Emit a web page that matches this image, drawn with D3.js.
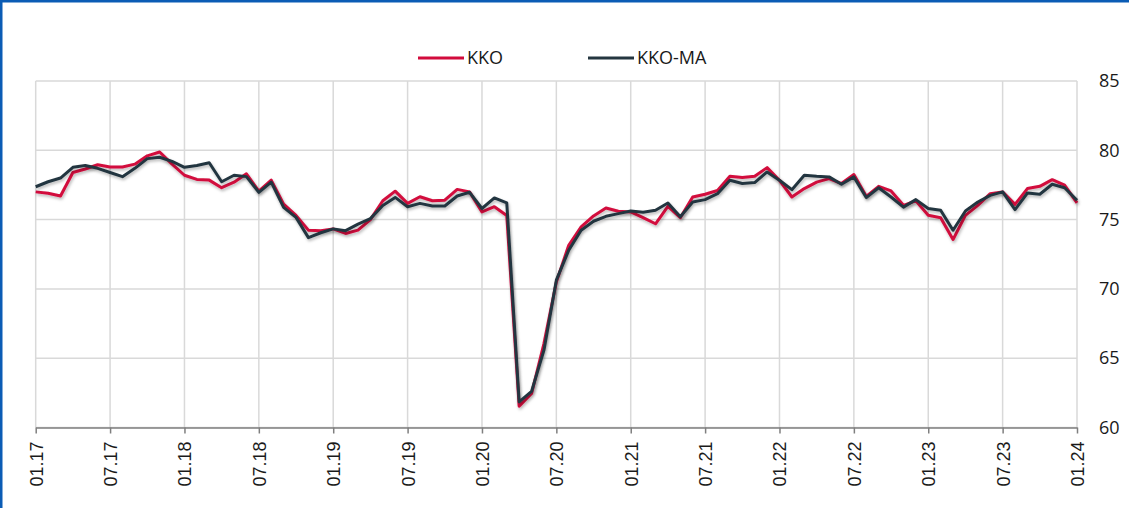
<!DOCTYPE html>
<html>
<head>
<meta charset="utf-8">
<script src="https://cdn.jsdelivr.net/npm/d3@7"></script>
<style>
  html, body { margin: 0; padding: 0; background: #fff; }
  svg { display: block; }
</style>
</head>
<body>
<svg id="chart" width="1129" height="508"></svg>
<script>
// Monthly data, 01.2017 .. 01.2024 (85 months)
const seriesNames = ["KKO", "KKO-MA"];
const kko = [
  77.0, 76.9, 76.7, 78.4, 78.65, 78.96, 78.8, 78.8, 79.0, 79.6, 79.88, 79.0,
  78.2, 77.9, 77.85, 77.3, 77.7, 78.3, 77.05, 77.85, 76.12, 75.3, 74.24, 74.2,
  74.33, 74.0, 74.24, 75.0, 76.36, 77.05, 76.17, 76.65, 76.36, 76.4, 77.18, 77.0,
  75.56, 75.93, 75.3, 61.54, 62.45, 66.06, 70.5, 73.15, 74.47, 75.26, 75.84, 75.6,
  75.55, 75.14, 74.7, 75.96, 75.14, 76.63, 76.83, 77.1, 78.13, 78.03, 78.13, 78.75,
  77.84, 76.63, 77.24, 77.7, 77.96, 77.6, 78.25, 76.68, 77.4, 77.07, 76.03, 76.35,
  75.31, 75.14, 73.56, 75.31, 76.03, 76.87, 77.0, 76.1, 77.24, 77.4, 77.88, 77.48,
  76.2
];
const kkoMA = [
  77.37, 77.73, 78.0, 78.77, 78.9, 78.7, 78.4, 78.1, 78.7, 79.4, 79.5, 79.2,
  78.77, 78.9, 79.1, 77.73, 78.2, 78.1, 76.97, 77.7, 75.88, 75.16, 73.7, 74.05,
  74.33, 74.2, 74.67, 75.07, 76.02, 76.6, 75.93, 76.17, 75.98, 75.98, 76.7, 76.97,
  75.8, 76.56, 76.2, 61.85, 62.6, 65.58, 70.63, 72.8, 74.23, 74.88, 75.24, 75.43,
  75.62, 75.53, 75.67, 76.2, 75.2, 76.27, 76.44, 76.87, 77.84, 77.6, 77.67, 78.44,
  77.84, 77.16, 78.2, 78.13, 78.08, 77.55, 78.08, 76.59, 77.3, 76.63, 75.9, 76.44,
  75.8, 75.67, 74.23, 75.62, 76.27, 76.75, 77.0, 75.72, 76.92, 76.83, 77.55, 77.3,
  76.4
];
const tickLabels = ["01.17","07.17","01.18","07.18","01.19","07.19","01.20","07.20",
  "01.21","07.21","01.22","07.22","01.23","07.23","01.24"];
const yTicks = [60, 65, 70, 75, 80, 85];

const colors = ["#d20b3c", "#243640"];

(function () {
const svg = d3.select("#chart");
const W = 1129, H = 508;
const pLeft = 35.7, pRight = 1077, pTop = 81, pBottom = 427.5;

// frame (blue border top and left)
svg.append("rect").attr("x", 0).attr("y", 0).attr("width", W).attr("height", 2.5).attr("fill", "#0b5cb5");
svg.append("rect").attr("x", 0).attr("y", 0).attr("width", 2.5).attr("height", H).attr("fill", "#0b5cb5");

const x = d3.scaleLinear().domain([0, kko.length - 1]).range([pLeft, pRight]);
const y = d3.scaleLinear().domain([60, 85]).range([pBottom, pTop]);

// drop shadow filter
const defs = svg.append("defs");
const f = defs.append("filter").attr("id", "shadow").attr("x", "-5%").attr("y", "-5%").attr("width", "110%").attr("height", "120%");
f.append("feDropShadow").attr("dx", 1).attr("dy", 2).attr("stdDeviation", 1.6)
  .attr("flood-color", "#000").attr("flood-opacity", 0.28);

// grid horizontal
svg.append("g").selectAll("line").data(yTicks).join("line")
  .attr("x1", pLeft).attr("x2", pRight)
  .attr("y1", d => y(d)).attr("y2", d => y(d))
  .attr("stroke", "#d9d9d9").attr("stroke-width", 1.5);

// grid vertical
const xTickVals = tickLabels.map((d, i) => i * 6);
svg.append("g").selectAll("line").data(xTickVals).join("line")
  .attr("x1", d => x(d)).attr("x2", d => x(d))
  .attr("y1", pTop).attr("y2", pBottom)
  .attr("stroke", "#d9d9d9").attr("stroke-width", 1.5);

// x axis
const xAxis = d3.axisBottom(x).tickValues(xTickVals)
  .tickFormat((d, i) => tickLabels[i]).tickSize(6).tickSizeOuter(0);
const gx = svg.append("g").attr("transform", `translate(0,${pBottom})`).call(xAxis);
gx.select(".domain").attr("stroke", "#7f7f7f").attr("stroke-width", 1.5);
gx.selectAll(".tick line").attr("stroke", "#7f7f7f").attr("stroke-width", 1.5);
gx.selectAll(".tick text")
  .attr("font-family", "Liberation Sans, Arial, sans-serif")
  .attr("font-size", 18).attr("fill", "#1a1a1a")
  .attr("transform", "rotate(-90)")
  .attr("text-anchor", "end")
  .attr("x", -14).attr("y", 0).attr("dy", "0.36em");

// y axis right
const yAxis = d3.axisRight(y).tickValues(yTicks).tickSize(0).tickPadding(0);
const gy = svg.append("g").attr("transform", `translate(1099,0)`).call(yAxis);
gy.select(".domain").remove();
gy.selectAll(".tick text")
  .attr("font-family", "Open Sans, sans-serif")
  .attr("font-size", 18).attr("fill", "#1a1a1a");

// lines
const line = d3.line().x((d, i) => x(i)).y(d => y(d));
[kko, kkoMA].forEach((s, k) => {
  svg.append("path").datum(s)
    .attr("d", line)
    .attr("fill", "none")
    .attr("stroke", colors[k])
    .attr("stroke-width", 3)
    .attr("stroke-linejoin", "round")
    .attr("filter", "url(#shadow)");
});

// legend
const legendX = [418, 588];
const lg = svg.append("g");
seriesNames.forEach((n, k) => {
  lg.append("line").attr("x1", legendX[k]).attr("x2", legendX[k] + 46)
    .attr("y1", 58).attr("y2", 58)
    .attr("stroke", colors[k]).attr("stroke-width", 3);
  lg.append("text").attr("x", legendX[k] + 49).attr("y", 58).attr("dy", "0.35em")
    .attr("font-family", "Open Sans, sans-serif").attr("font-size", 18)
    .attr("fill", "#1a1a1a").text(n);
});
})();
</script>
</body>
</html>
